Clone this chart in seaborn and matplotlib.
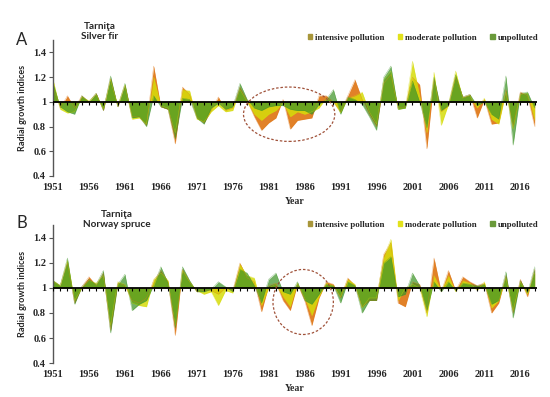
import numpy as np
import pandas as pd
import matplotlib
matplotlib.use("Agg")
import matplotlib.pyplot as plt
from matplotlib.patches import Ellipse, Patch
import seaborn as sns

years = list(range(1951, 2019))

# panel A - Silver fir
fir_intensive = [1.12, 0.95, 1.05, 0.95, 1.05, 1.00, 1.07, 0.93, 1.19, 0.96,
                 1.13, 0.88, 0.88, 0.81, 1.29, 0.96, 0.94, 0.66, 1.12, 1.06,
                 0.88, 0.83, 0.93, 1.04, 0.93, 0.95, 1.12, 1.01, 0.88, 0.77,
                 0.83, 0.87, 1.02, 0.78, 0.85, 0.86, 0.87, 1.05, 1.05, 1.00,
                 0.92, 1.05, 1.18, 1.02, 0.90, 0.80, 1.15, 1.22, 0.95, 0.96,
                 1.20, 1.14, 0.62, 1.18, 0.92, 0.97, 1.20, 1.04, 1.06, 0.87,
                 1.02, 0.82, 0.83, 1.10, 0.80, 1.08, 1.05, 0.80]
fir_moderate = [1.18, 0.94, 0.91, 0.92, 1.04, 1.01, 1.06, 0.94, 1.18, 0.97,
                1.14, 0.86, 0.87, 0.82, 1.20, 0.97, 0.95, 0.75, 1.10, 1.09,
                0.86, 0.84, 0.92, 0.97, 0.92, 0.93, 1.10, 1.00, 0.90, 0.85,
                0.90, 0.93, 0.99, 0.88, 0.92, 0.90, 0.92, 0.95, 1.03, 1.00,
                0.91, 1.03, 1.05, 1.08, 0.92, 0.82, 1.18, 1.25, 0.94, 0.95,
                1.33, 1.05, 0.75, 1.24, 0.81, 0.98, 1.25, 1.03, 1.05, 0.95,
                1.03, 0.86, 0.82, 1.08, 0.78, 1.06, 1.07, 0.85]
fir_unpolluted = [1.15, 0.96, 0.92, 0.90, 1.05, 1.00, 1.07, 0.93, 1.21, 0.96,
                  1.15, 0.87, 0.88, 0.80, 1.05, 0.96, 0.94, 0.70, 1.03, 1.02,
                  0.87, 0.82, 0.95, 0.99, 0.94, 0.96, 1.15, 1.02, 0.95, 0.93,
                  0.96, 0.97, 0.97, 0.94, 0.93, 0.93, 0.90, 0.98, 1.02, 1.10,
                  0.90, 1.04, 1.02, 0.98, 0.88, 0.77, 1.20, 1.29, 0.94, 0.95,
                  1.17, 1.00, 0.79, 1.20, 0.93, 0.97, 1.22, 1.04, 1.06, 0.97,
                  1.00, 0.90, 0.86, 1.21, 0.65, 1.07, 1.08, 0.95]

# panel B - Norway spruce
spruce_intensive = [1.05, 1.02, 1.20, 0.88, 1.01, 1.09, 1.02, 1.12, 0.66, 1.04,
                    1.02, 0.90, 0.88, 0.92, 1.06, 1.14, 1.05, 0.62, 1.15, 1.05,
                    0.97, 0.98, 0.98, 0.95, 1.00, 0.98, 1.20, 1.08, 1.05, 0.81,
                    1.02, 1.04, 0.90, 0.82, 1.03, 0.90, 0.70, 0.92, 1.05, 1.03,
                    0.92, 1.08, 1.02, 0.85, 0.90, 0.90, 1.27, 1.36, 0.88, 0.85,
                    1.05, 1.03, 0.80, 1.24, 0.97, 1.14, 0.98, 1.09, 1.05, 1.02,
                    1.04, 0.80, 0.88, 1.10, 0.80, 1.07, 0.93, 1.15]
spruce_moderate = [1.06, 1.02, 1.22, 0.90, 1.00, 1.06, 1.04, 1.10, 0.70, 1.05,
                   1.03, 0.88, 0.86, 0.85, 1.07, 1.12, 1.06, 0.70, 1.14, 1.05,
                   0.98, 0.95, 0.97, 0.86, 0.98, 0.96, 1.19, 1.10, 1.08, 0.86,
                   1.00, 1.03, 0.93, 0.85, 1.04, 0.92, 0.78, 0.93, 1.04, 1.02,
                   0.93, 1.07, 1.03, 0.84, 0.92, 0.92, 1.25, 1.39, 0.90, 1.00,
                   1.03, 1.00, 0.77, 1.10, 0.98, 1.10, 0.97, 1.06, 1.04, 0.98,
                   1.05, 0.84, 0.90, 1.08, 0.82, 1.05, 0.95, 1.12]
spruce_unpolluted = [1.06, 1.02, 1.24, 0.87, 1.01, 1.07, 1.03, 1.14, 0.64, 1.03,
                     1.11, 0.82, 0.87, 0.90, 1.02, 1.17, 1.04, 0.68, 1.17, 1.06,
                     0.97, 0.97, 0.99, 1.05, 1.01, 0.97, 1.15, 1.12, 1.02, 0.88,
                     1.07, 1.12, 0.97, 0.95, 1.05, 0.90, 0.87, 0.95, 1.03, 1.02,
                     0.88, 1.05, 1.02, 0.80, 0.90, 0.90, 1.20, 1.25, 0.93, 0.95,
                     1.12, 1.02, 0.82, 1.05, 0.97, 1.05, 0.98, 1.04, 1.03, 1.02,
                     1.03, 0.87, 0.90, 1.13, 0.76, 1.06, 0.96, 1.17]

tick_years = list(range(1951, 2017, 5))
y_ticks = [0.4, 0.6, 0.8, 1.0, 1.2, 1.4]
y_ticklabels = ["0.4", "0.6", "0.8", "1", "1.2", "1.4"]

series_names = ["intensive pollution", "moderate pollution", "unpolluted"]
fill_colors = ["#E07A1C", "#D6DC0A", "#3F9428"]
fill_alpha = [0.95, 0.85, 0.72]
legend_colors = ["#A8963A", "#E2E21C", "#6A9A3A"]

sns.set_theme(style="white")
plt.rcParams["font.family"] = ["Liberation Serif", "DejaVu Serif"]

fig = plt.figure(figsize=(5.5, 3.97), dpi=100)
axA = fig.add_axes([0.0964, 0.5567, 0.8796, 0.3423])
axB = fig.add_axes([0.0964, 0.0856, 0.8796, 0.3465])

panels = [
    (axA, [fir_intensive, fir_moderate, fir_unpolluted], "A", 1.0, "Tarniţa\nSilver fir",
     0.097, 1.062, 1.015, (1983.85, 0.90, 12.7, 0.44)),
    (axB, [spruce_intensive, spruce_moderate, spruce_unpolluted], "B", 1.018, "Tarniţa\nNorway spruce",
     0.132, 1.044, 1.004, (1985.8, 0.888, 8.4, 0.52)),
]

for ax, series, letter, letter_y, title, title_x, title_y, leg_y, ell in panels:
    df = pd.DataFrame({"year": years})
    for name, vals in zip(series_names, series):
        df[name] = vals
    long = df.melt(id_vars="year", var_name="group", value_name="index")
    for name, col, a in zip(series_names, fill_colors, fill_alpha):
        ax.fill_between(df["year"], 1, df[name], color=col, alpha=a, lw=0)
    sns.lineplot(data=long, x="year", y="index", hue="group", palette=fill_colors,
                 hue_order=series_names, lw=0.3, alpha=0.6, ax=ax, legend=False)

    ax.axhline(1, color="black", lw=1.3, zorder=5)
    ax.vlines(years, 0.978, 1, color="black", lw=0.8, zorder=5)

    ax.set_xlim(1951, 2018.3)
    ax.set_ylim(0.4, 1.5)
    ax.set_xticks(tick_years)
    ax.set_xticklabels([str(t) for t in tick_years], fontsize=7.5, fontweight="bold")
    ax.set_yticks(y_ticks)
    ax.set_yticklabels(y_ticklabels, fontsize=7.5, fontweight="bold")
    ax.tick_params(axis="x", length=0, pad=5)
    ax.tick_params(axis="y", length=3, width=0.8, color="#555555", direction="out", pad=2, left=True)
    for s in ["top", "right", "bottom"]:
        ax.spines[s].set_visible(False)
    ax.spines["left"].set_color("#555555")
    ax.spines["left"].set_linewidth(1.0)
    ax.set_xlabel("Year", fontsize=7, fontweight="bold", labelpad=0)
    ax.xaxis.set_label_coords(0.5, -0.155)
    ax.set_ylabel("Radial growth indices", fontsize=6.5, fontweight="bold",
                  family=["Lato", "DejaVu Sans"], labelpad=4)
    ax.grid(False)

    cx, cy, w, h = ell
    ax.add_patch(Ellipse((cx, cy), w, h, fill=False, ec="#A0523A", lw=0.9,
                         ls=(0, (2, 1.5)), zorder=6))

    ax.text(-0.064, letter_y, letter, transform=ax.transAxes, fontsize=12,
            family=["Lato", "DejaVu Sans"], ha="center", va="center")
    ax.text(title_x, title_y, title, transform=ax.transAxes, fontsize=7.2, fontweight="bold",
            family=["Lato", "DejaVu Sans"], ha="center", va="center", linespacing=1.1)

    handles = [Patch(color=c, label=n) for c, n in zip(legend_colors, series_names)]
    ax.legend(handles=handles, loc="center right", bbox_to_anchor=(1.012, leg_y), ncol=3,
              frameon=False, handlelength=0.5, handleheight=0.5, handletextpad=0.35,
              columnspacing=1.5, borderpad=0, prop={"size": 6.3, "weight": "bold"})

fig.savefig("out.png", dpi=100)
